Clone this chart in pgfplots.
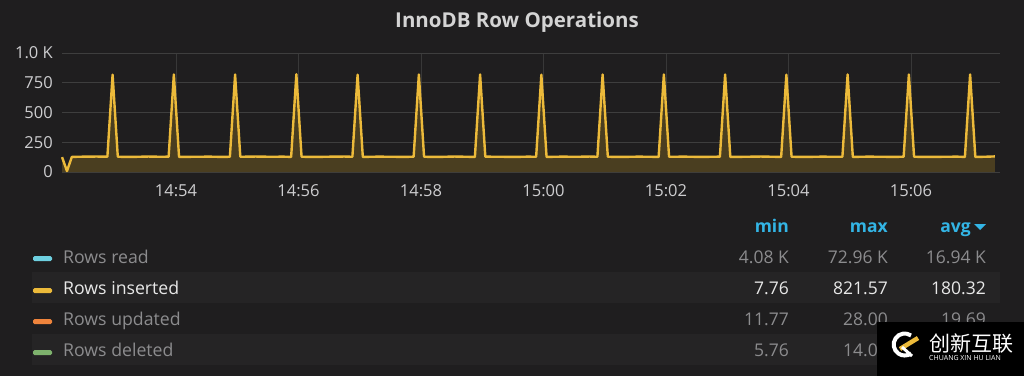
\documentclass[border=0pt]{standalone}
\usepackage{fontspec}
\setmainfont{Open Sans}
\newfontfamily\cjk{Noto Sans CJK SC}
\usepackage{pgfplots}
\pgfplotsset{compat=1.18}
\usepackage{pgfplotstable}
\definecolor{bgc}{RGB}{31,30,31}
\definecolor{bandc}{RGB}{37,36,37}
\definecolor{gridc}{RGB}{62,62,62}
\definecolor{tickc}{RGB}{205,205,207}
\definecolor{greyc}{RGB}{140,140,142}
\definecolor{whitec}{RGB}{232,232,232}
\definecolor{bluec}{RGB}{51,181,229}
\definecolor{yelc}{RGB}{236,186,58}
\definecolor{cyanc}{RGB}{110,208,224}
\definecolor{orangec}{RGB}{239,132,60}
\definecolor{greenc}{RGB}{126,178,109}
\definecolor{fillc}{RGB}{74,62,32}

\pgfplotstableread{
x y
52.14 125
52.22 8
52.30 127
52.50 129
52.70 130
52.88 129
52.965 818
53.05 128
53.30 127
53.55 130
53.75 128
53.88 129
53.965 820
54.05 127
54.30 128
54.55 129
54.75 127
54.88 128
54.965 819
55.05 128
55.30 130
55.55 128
55.75 129
55.88 127
55.965 821.57
56.05 128
56.30 127
56.55 129
56.75 130
56.88 128
56.965 818
57.05 127
57.30 129
57.55 128
57.75 127
57.88 129
57.965 819
58.05 128
58.30 127
58.55 130
58.75 128
58.88 127
58.965 820
59.05 129
59.30 128
59.55 127
59.75 129
59.88 128
59.965 818
60.05 127
60.30 129
60.55 128
60.75 130
60.88 128
60.965 819
61.05 128
61.30 127
61.55 129
61.75 128
61.88 127
61.965 820
62.05 128
62.30 129
62.55 127
62.75 128
62.88 129
62.965 819
63.05 127
63.30 128
63.55 130
63.75 128
63.88 127
63.965 818
64.05 128
64.30 127
64.55 129
64.75 128
64.88 128
64.965 820
65.05 127
65.30 129
65.55 128
65.75 127
65.88 129
65.965 819
66.05 128
66.30 127
66.55 128
66.75 129
66.88 127
66.965 820
67.05 127
67.20 128
67.37 131
}\insdata

\begin{document}
\begin{tikzpicture}
\useasboundingbox (0,0) rectangle (1024pt,-376pt);
\fill[bgc] (0,0) rectangle (1024pt,-376pt);
% title
\node[font=\fontsize{20.5}{24}\selectfont\bfseries, text=whitec!90!bgc, inner sep=0] at (517pt,-22pt) {InnoDB Row Operations};

\begin{axis}[
  at={(62pt,-172pt)}, anchor=south west,
  scale only axis, width=938pt, height=119pt,
  xmin=52.139, xmax=67.453, ymin=0, ymax=1000,
  axis line style={draw=none},
  major tick length=0pt,
  xtick={54,56,58,60,62,64,66},
  xticklabels={14:54,14:56,14:58,15:00,15:02,15:04,15:06},
  ytick={0,250,500,750,1000},
  yticklabels={0,250,500,750,1.0 K},
  grid=major,
  major grid style={gridc, line width=0.8pt},
  x grid style={gridc!80!bgc, line width=0.8pt},
  tick label style={font=\fontsize{16.5}{18}\selectfont, text=tickc},
  yticklabel style={anchor=east, inner sep=0pt, xshift=-9pt},
  xticklabel style={anchor=north, inner sep=0pt, yshift=-12pt},
  /pgf/number format/assume math mode=true,
  clip=false,
]
\addplot[draw=none, fill=fillc] table[x=x,y=y] {\insdata} \closedcycle;
\addplot[yelc, line width=2.4pt, line join=round, mark=none] table[x=x,y=y] {\insdata};
\end{axis}

% legend table
\fill[bandc] (32pt,-272pt) rectangle (1000pt,-303pt);
\fill[bandc] (32pt,-334pt) rectangle (1000pt,-365pt);
\begin{scope}[every node/.style={inner sep=0pt}]
\node[anchor=base east, font=\fontsize{17.5}{20}\selectfont\bfseries, text=bluec] at (789pt,-232pt) {min};
\node[anchor=base east, font=\fontsize{17.5}{20}\selectfont\bfseries, text=bluec] at (888pt,-232pt) {max};
\node[anchor=base east, font=\fontsize{17.5}{20}\selectfont\bfseries, text=bluec] at (971pt,-232pt) {avg};
\fill[bluec] (974pt,-224pt) -- (986pt,-224pt) -- (980pt,-230pt) -- cycle;

\fill[cyanc, rounded corners=1.5pt] (33pt,-256pt) rectangle (52pt,-261pt);
\fill[yelc, rounded corners=1.5pt] (33pt,-288pt) rectangle (52pt,-293pt);
\fill[orangec, rounded corners=1.5pt] (33pt,-319pt) rectangle (52pt,-324pt);
\fill[greenc, rounded corners=1.5pt] (33pt,-350pt) rectangle (52pt,-355pt);

\node[anchor=base west, font=\fontsize{17.7}{20}\selectfont, text=greyc] at (63pt,-263pt) {Rows read};
\node[anchor=base west, font=\fontsize{17.7}{20}\selectfont, text=whitec] at (63pt,-294pt) {Rows inserted};
\node[anchor=base west, font=\fontsize{17.7}{20}\selectfont, text=greyc] at (63pt,-325pt) {Rows updated};
\node[anchor=base west, font=\fontsize{17.7}{20}\selectfont, text=greyc] at (63pt,-356pt) {Rows deleted};

\node[anchor=base east, font=\fontsize{17.5}{20}\selectfont, text=greyc] at (789pt,-263pt) {4.08 K};
\node[anchor=base east, font=\fontsize{17.5}{20}\selectfont, text=greyc] at (888pt,-263pt) {72.96 K};
\node[anchor=base east, font=\fontsize{17.5}{20}\selectfont, text=greyc] at (986pt,-263pt) {16.94 K};
\node[anchor=base east, font=\fontsize{17.5}{20}\selectfont, text=whitec] at (789pt,-294pt) {7.76};
\node[anchor=base east, font=\fontsize{17.5}{20}\selectfont, text=whitec] at (888pt,-294pt) {821.57};
\node[anchor=base east, font=\fontsize{17.5}{20}\selectfont, text=whitec] at (986pt,-294pt) {180.32};
\node[anchor=base east, font=\fontsize{17.5}{20}\selectfont, text=greyc] at (789pt,-325pt) {11.77};
\node[anchor=base east, font=\fontsize{17.5}{20}\selectfont, text=greyc] at (888pt,-325pt) {28.00};
\node[anchor=base east, font=\fontsize{17.5}{20}\selectfont, text=greyc] at (986pt,-325pt) {19.69};
\node[anchor=base east, font=\fontsize{17.5}{20}\selectfont, text=greyc] at (789pt,-356pt) {5.76};
\node[anchor=base east, font=\fontsize{17.5}{20}\selectfont, text=greyc] at (888pt,-356pt) {14.00};
\end{scope}

% overlay box
\fill[black] (877pt,-322pt) rectangle (1024pt,-376pt);
\draw[white, line width=4pt] (911pt,-335.5pt) arc (55:305:11pt);
\draw[yelc, line width=4.5pt] (900pt,-349pt) -- (918pt,-338pt);
\draw[white, line width=3pt] (902pt,-347pt) -- (912pt,-356pt);
\node[anchor=west, inner sep=0, text=white, font=\cjk\fontsize{21}{23}\selectfont] at (929pt,-344pt) {创新互联};
\node[anchor=west, inner sep=0, text=white, font=\fontsize{7}{8}\selectfont] at (929pt,-358pt) {CHUANG XIN HU LIAN};
\end{tikzpicture}
\end{document}
